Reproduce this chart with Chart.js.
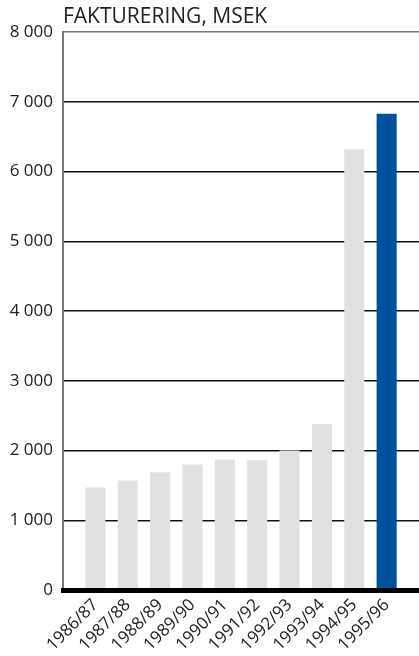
<!DOCTYPE html>
<html lang="sv">
<head>
    <meta charset="UTF-8">
    <title>Fakturering</title>
    <style>
        html, body { margin: 0; padding: 0; background: #fff; }
        #wrap { width: 419px; height: 656px; position: relative; }
    </style>
</head>
<body>
<div id="wrap">
    <canvas id="myChart"></canvas>
</div>

<script src="https://cdn.jsdelivr.net/npm/chart.js"></script>

<script>
    // fiscal years and invoicing in MSEK
    const years = ['1986/87', '1987/88', '1988/89', '1989/90', '1990/91',
                   '1991/92', '1992/93', '1993/94', '1994/95', '1995/96'];
    const invoicing = [1470, 1570, 1690, 1800, 1870, 1860, 2000, 2380, 6320, 6830];
    const yTicks = [0, 1000, 2000, 3000, 4000, 5000, 6000, 7000, 8000];

    const FONT = '"Open Sans", "DejaVu Sans", sans-serif';
    const GREY = '#e1e1e1';
    const BLUE = '#00519b';

    // empty slot on each side so the bars sit between the axes like the original
    const labels = [''].concat(years, ['']);
    const values = [null].concat(invoicing, [null]);
    const colors = labels.map((l, i) => i === years.length ? BLUE : GREY);

    function spaced(v) {
        return String(v).replace(/\B(?=(\d{3})+(?!\d))/g, ' ');
    }

    const ctx = document.getElementById('myChart').getContext('2d');

    const chart = new Chart(ctx, {
        type: 'bar',
        data: {
            labels: labels,
            datasets: [{
                data: values,
                backgroundColor: colors,
                borderWidth: 0,
                barPercentage: 0.62,
                categoryPercentage: 1
            }]
        },
        options: {
            responsive: true,
            maintainAspectRatio: false,
            animation: false,
            layout: { padding: 0 },
            plugins: {
                legend: { display: false },
                tooltip: { enabled: false },
                title: {
                    display: true,
                    text: 'FAKTURERING, MSEK',
                    align: 'start',
                    fullSize: false,
                    color: '#222',
                    font: { family: FONT, size: 21, weight: 'normal', lineHeight: 1.2 },
                    padding: { top: 4, bottom: 3 }
                }
            },
            scales: {
                x: {
                    offset: false,
                    grid: { display: false, drawTicks: false },
                    border: { display: true, color: '#000', width: 5, z: 1 },
                    ticks: {
                        autoSkip: false,
                        minRotation: 45,
                        maxRotation: 45,
                        padding: 5,
                        color: '#222',
                        font: { family: FONT, size: 17 }
                    },
                    afterFit: s => {
                        s.height = 66;
                        s.paddingLeft = 0;
                        s.paddingRight = 0;
                    }
                },
                y: {
                    min: yTicks[0],
                    max: yTicks[yTicks.length - 1],
                    afterBuildTicks: s => { s.ticks = yTicks.map(v => ({ value: v })); },
                    grid: {
                        drawTicks: false,
                        color: c => c.tick && c.tick.value === 8000 ? '#777' : '#111',
                        lineWidth: c => c.tick && c.tick.value === 0 ? 0 : 1.5
                    },
                    border: { display: true, color: '#777', width: 2 },
                    ticks: {
                        padding: 10,
                        color: '#222',
                        font: { family: FONT, size: 17 },
                        callback: v => spaced(v)
                    },
                    afterFit: s => { s.width = 63; }
                }
            }
        }
    });
</script>

</body>
</html>
